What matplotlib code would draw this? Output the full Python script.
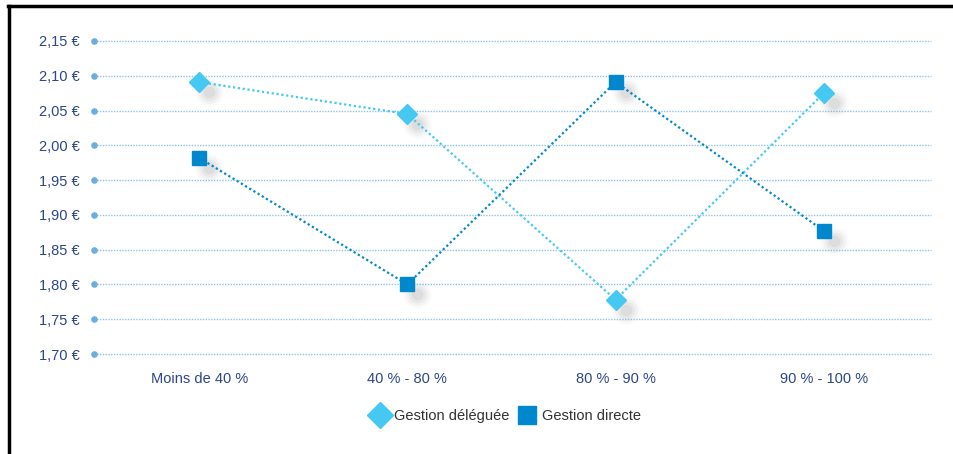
import matplotlib
matplotlib.use("Agg")
import matplotlib.pyplot as plt
from matplotlib.lines import Line2D
import matplotlib.transforms as mtransforms
import numpy as np

categories = ["Moins de 40 %", "40 % - 80 %", "80 % - 90 %", "90 % - 100 %"]
deleguee = [2.091, 2.045, 1.778, 2.075]
directe = [1.982, 1.800, 2.091, 1.877]
yticks = [1.70, 1.75, 1.80, 1.85, 1.90, 1.95, 2.00, 2.05, 2.10, 2.15]
ytick_labels = ["1,70 €", "1,75 €", "1,80 €", "1,85 €", "1,90 €", "1,95 €",
                "2,00 €", "2,05 €", "2,10 €", "2,15 €"]

plt.rcParams['font.family'] = ['Liberation Sans', 'DejaVu Sans']

W, H = 954, 454
fig = plt.figure(figsize=(W / 100, H / 100), dpi=100)
ax = fig.add_axes([94 / W, 1 - 354 / H, (931 - 94) / W, (354 - 41) / H])

c_del = "#45C8F2"
c_dir = "#0088CF"
c_txt = "#2C4688"
c_grid = "#8EC3EA"

x = np.arange(len(categories))

ax.set_xlim(-0.505, 3.515)
ax.set_ylim(1.70, 2.15)

for yv in yticks:
    ax.axhline(yv, color=c_grid, lw=1.0, ls=(0, (1, 1)), zorder=1, clip_on=False)
ax.scatter([-0.505] * len(yticks), yticks, s=14, color="#6AAEE0", zorder=3, clip_on=False)

# shadows
shadow_tr = mtransforms.offset_copy(ax.transData, fig=fig, x=10, y=-10, units='dots')
for sz, a in [(420, 0.03), (280, 0.05), (160, 0.07), (70, 0.09)]:
    ax.scatter(x, deleguee, s=sz, color="#707070", alpha=a, lw=0, transform=shadow_tr, zorder=2)
    ax.scatter(x, directe, s=sz, color="#707070", alpha=a, lw=0, transform=shadow_tr, zorder=2)

ax.plot(x, deleguee, color=c_del, lw=1.6, ls=(0, (1, 1.2)), zorder=4)
ax.plot(x, directe, color=c_dir, lw=1.6, ls=(0, (1, 1.2)), zorder=4)
ax.plot(x, deleguee, ls="none", marker="D", ms=10, color=c_del, mec=c_del, zorder=5)
ax.plot(x, directe, ls="none", marker="s", ms=9.5, color=c_dir, mec=c_dir, zorder=5)

for s in ax.spines.values():
    s.set_visible(False)
ax.set_yticks(yticks)
ax.set_yticklabels(ytick_labels)
ax.set_xticks(x)
ax.set_xticklabels(categories)
ax.tick_params(length=0, labelsize=10.5, labelcolor=c_txt)
ax.tick_params(axis='y', pad=10)
ax.tick_params(axis='x', pad=13)

handles = [
    Line2D([], [], ls="none", marker="D", ms=13, color=c_del, label="Gestion déléguée"),
    Line2D([], [], ls="none", marker="s", ms=13, color=c_dir, label="Gestion directe"),
]
fig.legend(handles=handles, loc="center", bbox_to_anchor=(505 / W, 1 - 416 / H),
           ncol=2, frameon=False, fontsize=10.5, handletextpad=0.3, columnspacing=0.5,
           handlelength=1.4, labelcolor="#333333")

# frame
fig.add_artist(Line2D([8 / W, 1.0], [1 - 6 / H, 1 - 6 / H], color="black", lw=2.5))
fig.add_artist(Line2D([9 / W, 9 / W], [0, 1 - 6 / H], color="black", lw=2.5))

fig.savefig("out.png", dpi=100)
